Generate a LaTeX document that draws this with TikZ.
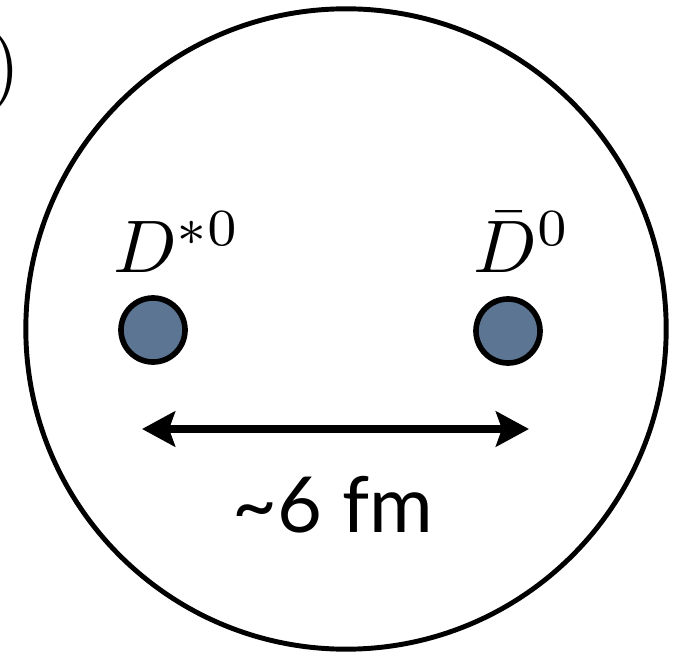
\documentclass[tikz,border=0pt]{standalone}
\usepackage{fontspec}
\newfontfamily\distfont{Lato}
\usetikzlibrary{arrows.meta}
\definecolor{mesonblue}{RGB}{92,117,146}
\tikzset{
  meson/.style={circle,draw,line width=1.6pt,fill=mesonblue,minimum size=0.64cm,inner sep=0pt},
  mesonlabel/.style={anchor=base,inner sep=0pt,scale=2.12}
}
\begin{document}
\begin{tikzpicture}[x=0.01cm,y=-0.01cm,>={Stealth[length=3.3mm,width=3.5mm,inset=0.6mm]}]
\useasboundingbox (0,0) rectangle (676,652);
% zbytek popisku vlevo nahore
\node[anchor=base east,inner sep=0pt,scale=2.28] (paren) at (22,92) {$)$};
% molekula a dva mezony
\node[circle,draw,line width=1.4pt,minimum size=6.4cm,inner sep=0pt] (molecule) at (346,329) {};
\node[meson] (dstar) at (153,330) {};
\node[meson] (dbar) at (508,331) {};
\node[mesonlabel] (dstarlabel) at (177,273) {$D^{*0}$};
\node[mesonlabel] (dbarlabel) at (522,273) {$\bar{D}^0$};
% vzdalenost
\coordinate (left) at (142,429);
\coordinate (right) at (529,429);
\draw[line width=2pt,<->] (left) -- (right);
\node[anchor=base,inner sep=0pt,font=\distfont\fontsize{22}{26}\selectfont] (dist) at (333,532) {\textasciitilde 6 fm};
\end{tikzpicture}
\end{document}
